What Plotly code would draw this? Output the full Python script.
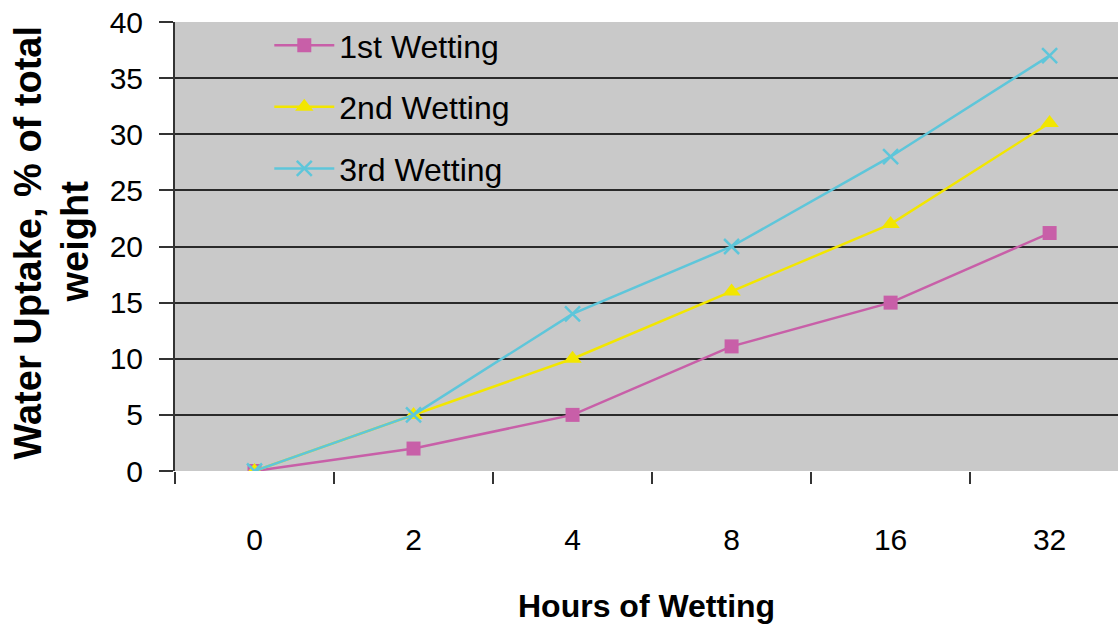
import plotly.graph_objects as go

hours = ["0", "2", "4", "8", "16", "32"]
wet1 = [0, 2, 5, 11.1, 15, 21.2]
wet2 = [0, 5, 10, 16, 22, 31]
wet3 = [0, 5, 14, 20, 28, 37]
y_ticks = [0, 5, 10, 15, 20, 25, 30, 35, 40]

FONT = "Liberation Sans, Arial, sans-serif"
PINK = "#c85fa8"
YELLOW = "#f2e600"
CYAN = "#5ec6da"

fig = go.Figure()
fig.add_trace(go.Scatter(x=hours, y=wet1, name="1st Wetting", mode="lines+markers",
                         legendgroup="a",
                         line=dict(color=PINK, width=2.5),
                         marker=dict(symbol="square", size=14, color=PINK)))
fig.add_trace(go.Scatter(x=hours, y=wet2, name="2nd Wetting", mode="lines+markers",
                         legendgroup="b",
                         line=dict(color=YELLOW, width=2.5),
                         marker=dict(symbol="triangle-up", size=16, color=YELLOW)))
fig.add_trace(go.Scatter(x=hours, y=wet3, name="3rd Wetting", mode="lines+markers",
                         legendgroup="c",
                         line=dict(color=CYAN, width=2.5),
                         marker=dict(symbol="x-thin", size=15, color=CYAN,
                                     line=dict(color=CYAN, width=2.5))))

fig.update_layout(
    width=1118, height=628,
    margin=dict(l=175, r=0, t=22, b=157),
    paper_bgcolor="white",
    plot_bgcolor="#c9c9c9",
    font=dict(family=FONT, size=30, color="black"),
    showlegend=True,
    legend=dict(x=0.1, y=1.009, xanchor="left", yanchor="top",
                bgcolor="rgba(0,0,0,0)", font=dict(size=32, color="black"),
                tracegroupgap=17, itemwidth=60),
)
fig.update_xaxes(type="category", range=[-0.5, 5.43], tickson="boundaries",
                 ticks="outside", ticklen=12, tickwidth=1.5, tickcolor="#333",
                 showgrid=False, showline=False, zeroline=False,
                 ticklabelstandoff=48,
                 tickfont=dict(size=30))
fig.update_yaxes(range=[0, 40], tickvals=y_ticks, ticks="outside", ticklen=14,
                 tickwidth=1.5, tickcolor="#333", showline=True, linecolor="#333",
                 linewidth=2, showgrid=True, gridcolor="#2a2a2a", gridwidth=1.8,
                 zeroline=False, ticklabelstandoff=10,
                 tickfont=dict(size=30))
fig.add_annotation(text="<b>Hours of Wetting</b>", xref="paper", yref="paper",
                   x=0.5, y=0, yshift=-135, xanchor="center", yanchor="middle",
                   showarrow=False, font=dict(size=32))
fig.add_annotation(text="<b>Water Uptake, % of total</b>", xref="paper", yref="paper",
                   x=0, xshift=-148, y=0.5, yshift=4, textangle=-90, xanchor="center",
                   yanchor="middle", showarrow=False, font=dict(size=38))
fig.add_annotation(text="<b>weight</b>", xref="paper", yref="paper",
                   x=0, xshift=-101, y=0.5, yshift=5, textangle=-90, xanchor="center",
                   yanchor="middle", showarrow=False, font=dict(size=38))

fig.write_html("out.html")
